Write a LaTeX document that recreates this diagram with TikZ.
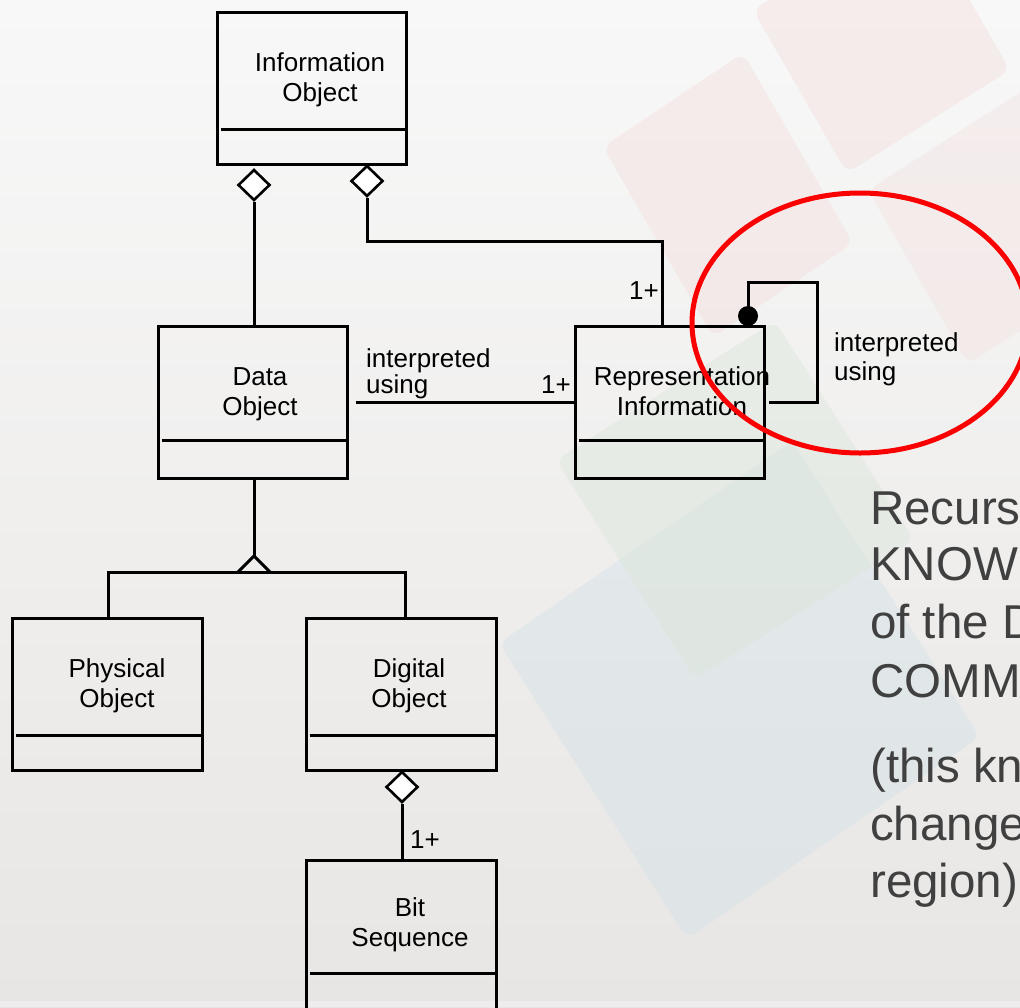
\documentclass[tikz,border=0pt]{standalone}
\usepackage{fontspec}
\setmainfont{Liberation Sans}
\usetikzlibrary{shapes.geometric}
\definecolor{bgtop}{RGB}{248,248,248}
\definecolor{bgbot}{RGB}{232,230,228}
\definecolor{wmpink}{RGB}{242,222,221}
\definecolor{wmgreen}{RGB}{220,230,218}
\definecolor{wmblue}{RGB}{208,224,232}
\definecolor{notegray}{RGB}{64,64,64}
\definecolor{ringred}{RGB}{250,0,0}
\tikzset{
  classbox/.style={draw, line width=3pt, inner sep=0pt, minimum width=189pt, minimum height=152pt},
  divider/.style={line width=3pt},
  conn/.style={line width=3pt},
  aggr/.style={diamond, draw, fill=white, line width=2.6pt, inner sep=0pt, minimum width=32pt, minimum height=31pt},
  boxtext/.style={font=\fontsize{26}{29.5}\selectfont, align=center, anchor=base, inner sep=0pt},
  lbl/.style={font=\fontsize{26}{29}\selectfont, align=left, inner sep=0pt},
  note/.style={font=\fontsize{47.5}{57.5}\selectfont, text=notegray, anchor=base west, inner sep=0pt},
  wm/.style={draw=none, rounded corners=10pt}
}
\begin{document}
\begin{tikzpicture}[x=1pt, y=-1pt]
\useasboundingbox (0,0) rectangle (1020,1007);

% backdrop with faint tilted squares
\shade[top color=bgtop, bottom color=bgbot] (0,0) rectangle (1020,1007);
\fill[wm, wmpink, opacity=0.45] (753,10) -- (847,173) -- (1010,70) -- (916,-93) -- cycle;
\fill[wm, wmpink, opacity=0.45] (603,147) -- (743,53) -- (853,243) -- (713,337) -- cycle;
\fill[wm, wmpink, opacity=0.35] (868,190) -- (1030,86) -- (1130,260) -- (968,364) -- cycle;
\fill[wm, wmblue, opacity=0.4] (499,643) -- (792,441) -- (980,737) -- (687,939) -- cycle;
\fill[wm, wmgreen, opacity=0.45] (556,460) -- (775,321) -- (914,540) -- (695,679) -- cycle;
\fill[bgbot!85!blue!20!white, opacity=0.5] (0,1001) rectangle (1020,1007);

% classes
\node[classbox] (io)   at (311.5,88.5) {};
\node[classbox] (data) at (252.5,402) {};
\node[classbox] (rep)  at (669.5,402) {};
\node[classbox, minimum width=190pt] (phys) at (107,694) {};
\node[classbox, minimum width=190pt] (dig)  at (401,694) {};
\node[classbox, minimum width=190pt, minimum height=155pt] (bit) at (401,937.5) {};

\foreach \b/\d in {io/118, data/116, rep/116, phys/119, dig/119, bit/115}
  \draw[divider] ([shift={(5,\d)}]\b.north west) -- ([shift={(0,\d)}]\b.north east);

% class names (node base sits on the second line)
\node[boxtext] (io-t)   at (320,101) {Information\\Object};
\node[boxtext] (data-t) at (260,415) {Data\\Object};
\node[boxtext] (rep-t)  at (682,415) {Representation\\Information};
\node[boxtext] (phys-t) at (117,707) {Physical\\Object};
\node[boxtext] (dig-t)  at (409,707) {Digital\\Object};
\node[boxtext] (bit-t)  at (410,946) {Bit\\Sequence};

% aggregation: Information Object
\node[aggr] (agg-data) at (254,185) {};
\node[aggr] (agg-rep)  at (367,181) {};
\draw[conn] (agg-data.south) -- (agg-data.south |- data.north);
\coordinate (bend) at (662,241);
\draw[conn] (agg-rep.south) |- (bend) -- (bend |- rep.north);
\node[lbl, anchor=base east] (m-rep) at (659,299) {1+};

% association Data Object -> Representation Information
\draw[conn] ([xshift=7pt]data.east) -- (rep.west);
\node[lbl, anchor=base west, font=\fontsize{26}{25.5}\selectfont] (a-lbl) at (366,393) {interpreted\\using};
\node[lbl, anchor=base east] (m-ri) at (571,393) {1+};

% generalization
\coordinate (gapex) at (254,556);
\coordinate (gleft) at (238,572);
\coordinate (gright) at (270,572);
\draw[conn] (data.south -| gapex) -- (gapex);
\draw[conn, line join=miter] (gleft) -- (gapex) -- (gright);
\coordinate (hl) at (108,572);
\coordinate (hr) at (405,572);
\draw[conn] (phys.north -| hl) -- (hl) -- (hr) -- (dig.north -| hr);

% aggregation: Digital Object
\node[aggr] (agg-bit) at (402,787) {};
\draw[conn] (agg-bit.south) -- (agg-bit.south |- bit.north);
\node[lbl, anchor=base west] (m-bit) at (410,848) {1+};

% recursive association on Representation Information
\node[circle, fill=black, inner sep=0pt, minimum size=20pt] (dot) at (748,316) {};
\coordinate (lp1) at (748,282);
\coordinate (lp2) at (817,402);
\draw[conn] (dot.center) -- (lp1) -| (lp2) -- ([xshift=3pt]rep.east |- lp2);
\node[lbl, anchor=base west] (s-lbl) at (834,380) {interpreted\\using};

% highlight ring
\draw[ringred, line width=5pt] (860,323) ellipse [x radius=168, y radius=130];

% note text
\node[note] (n1) at (870,524) {Recurs};
\node[note] (n2) at (870,580) {KNOW};
\node[note] (n3) at (870,638) {of the D};
\node[note] (n4) at (870,697) {COMM};
\node[note] (n5) at (870,782) {(this kn};
\node[note] (n6) at (870,840) {change};
\node[note] (n7) at (870,897) {region)};
\end{tikzpicture}
\end{document}
